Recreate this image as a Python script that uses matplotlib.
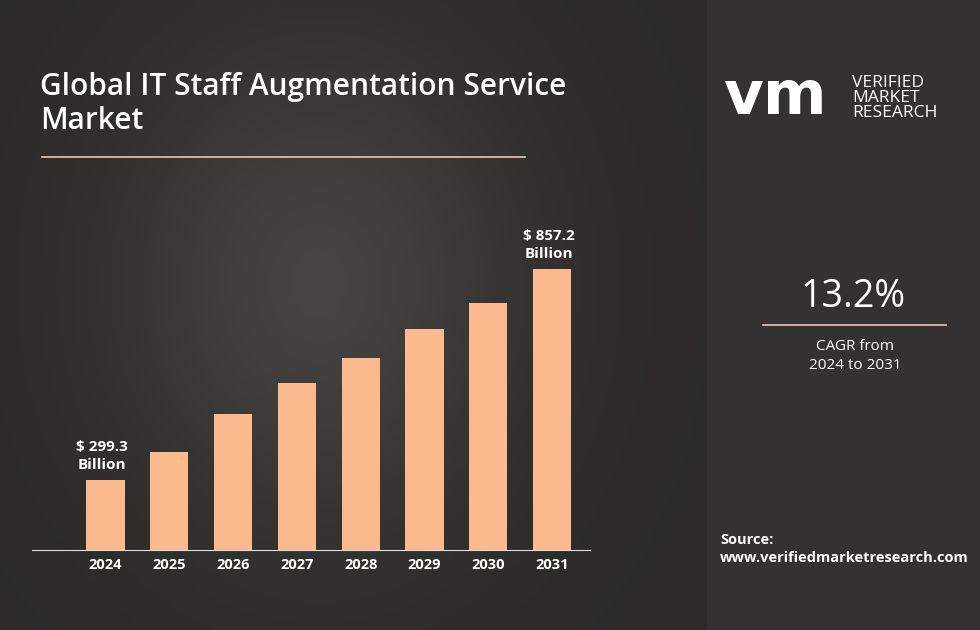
import matplotlib
matplotlib.use("Agg")
import matplotlib.pyplot as plt
import numpy as np

years = ["2024", "2025", "2026", "2027", "2028", "2029", "2030", "2031"]
values = [299.3, 373.3, 473.8, 555.8, 621.9, 698.5, 767.3, 857.2]

W, H = 980, 630
fig = plt.figure(figsize=(9.8, 6.3), dpi=100)
bg = fig.add_axes([0, 0, 1, 1])
bg.axis("off")
img = np.zeros((200, 200, 3))
yy, xx = np.mgrid[0:1:200j, 0:1:200j]
v = 0.17 + 0.10 * np.exp(-((xx - 0.45) ** 2 / 0.08 + (yy - 0.45) ** 2 / 0.15))
img[..., 0] = v; img[..., 1] = v * 0.98; img[..., 2] = v * 0.96
bg.imshow(img, extent=[0, 707, H, 0], aspect="auto", zorder=0)
bg.add_patch(plt.Rectangle((707, 0), W - 707, H, color="#333131", zorder=1))
bg.set_xlim(0, W); bg.set_ylim(H, 0)

bg.text(40, 104, "Global IT Staff Augmentation Service\nMarket", color="white",
        fontsize=21.5, fontweight="semibold", va="center", ha="left", linespacing=1.15,
        family="Open Sans")
bg.plot([42, 525], [157, 157], color="#f2c4a6", lw=1.2)

bg.text(723, 98, "vm", color="white", fontsize=44, fontweight="bold", va="center", family="DejaVu Sans")
bg.text(852, 98, "VERIFIED\nMARKET\nRESEARCH", color="white", fontsize=12.5, va="center",
        linespacing=0.95, family="Open Sans")
bg.text(853, 297, "13.2%", color="white", fontsize=27, ha="center", va="center", family="Open Sans")
bg.plot([763, 946], [325, 325], color="#f2c4a6", lw=1.2)
bg.text(855, 356, "CAGR from\n2024 to 2031", color="white", fontsize=11, ha="center",
        va="center", linespacing=1.4, family="Open Sans")
bg.text(720, 549, "Source:\nwww.verifiedmarketresearch.com", color="white", fontsize=10.5,
        ha="left", va="center", fontweight="bold", linespacing=1.3, family="Open Sans")

ax = fig.add_axes([32 / W, 1 - 550 / H, (590 - 32) / W, 400 / H])
ax.patch.set_alpha(0)
x = np.arange(len(years))
ax.bar(x, values, width=0.6, color="#fbb98e", zorder=3)
ax.set_xlim(-1.15, 7.65 - 3.6 / 63.4)
ax.set_ylim(114.2, 114.2 + 400 * 2.644)
for s in ["top", "right", "left"]:
    ax.spines[s].set_visible(False)
ax.spines["bottom"].set_color("#dddddd")
ax.set_yticks([])
ax.set_xticks(x)
ax.set_xticklabels(years, color="white", fontsize=10.5, fontweight="bold", family="Open Sans")
ax.tick_params(axis="x", length=0, pad=6)
for i in [0, len(years) - 1]:
    ax.text(x[i] - 0.05, values[i] + 22, f"$ {values[i]}\nBillion", color="white", ha="center",
            va="bottom", fontsize=11, fontweight="bold", linespacing=1.3, family="Open Sans")

fig.savefig("out.png", dpi=100)
